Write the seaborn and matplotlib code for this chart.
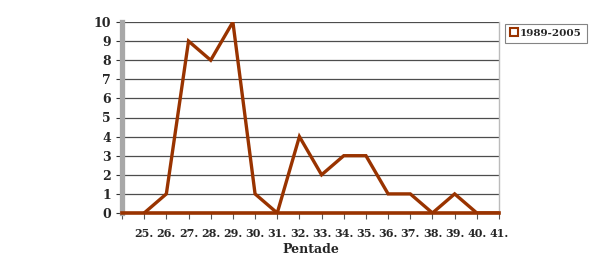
import matplotlib
matplotlib.use("Agg")
import matplotlib.pyplot as plt
import seaborn as sns
import pandas as pd
from matplotlib.lines import Line2D

pentade = [25, 26, 27, 28, 29, 30, 31, 32, 33, 34, 35, 36, 37, 38, 39, 40, 41]
counts = [0, 1, 9, 8, 10, 1, 0, 4, 2, 3, 3, 1, 1, 0, 1, 0, 0]
series_name = "1989-2005"
x_title = "Pentade"
y_ticks = list(range(0, 11))

df = pd.DataFrame({"Pentade": pentade, "Anzahl": counts})

sns.set_style("white")
plt.rcParams["font.family"] = ["DejaVu Serif"]
plt.rcParams["font.weight"] = "bold"

brown = "#993300"
fig = plt.figure(figsize=(6.06, 2.77), dpi=100)
ax = fig.add_axes([122 / 606, 1 - 213 / 277, (499 - 122) / 606, (213 - 22) / 277])

sns.lineplot(data=df, x="Pentade", y="Anzahl", ax=ax, color=brown, linewidth=2.4,
             solid_joinstyle="miter", zorder=5, label=series_name, legend=False)

ax.set_xlim(pentade[0] - 1, pentade[-1])
ax.set_ylim(0, 10)
ax.set_yticks(y_ticks)
ax.set_yticklabels([str(v) for v in y_ticks], fontsize=9, fontweight="bold")
ax.set_xticks([pentade[0] - 1] + pentade)
ax.set_xticklabels([""] + [f"{p}." for p in pentade], fontsize=8, fontweight="bold")
ax.tick_params(axis="x", length=4, width=0.8, color="#555555", pad=7, direction="out", bottom=True)
ax.tick_params(axis="y", length=4, width=0.8, color="#333333", pad=4, direction="out", left=True)

ax.grid(axis="y", color="#4d4d4d", linewidth=0.9)
ax.grid(axis="x", visible=False)
ax.set_axisbelow(True)

ax.spines["top"].set_visible(False)
ax.spines["right"].set_color("#bbbbbb")
ax.spines["right"].set_linewidth(1.0)
ax.spines["left"].set_color("#a8a8a8")
ax.spines["left"].set_linewidth(3.8)
ax.spines["bottom"].set_color(brown)
ax.spines["bottom"].set_linewidth(2.6)
ax.spines["bottom"].set_zorder(6)

ax.set_xlabel(x_title, fontsize=9, fontweight="bold", labelpad=3)
ax.set_ylabel("")

handle = Line2D([], [], linestyle="none", marker="s", markersize=6,
                markerfacecolor="white", markeredgecolor=brown, markeredgewidth=1.5)
leg = fig.legend([handle], [series_name], loc="upper left",
                 bbox_to_anchor=(505 / 606, 1 - 24 / 277), frameon=True, fancybox=False,
                 prop={"size": 7.5, "weight": "bold"}, handlelength=0.8, handletextpad=0.2,
                 borderpad=0.45, borderaxespad=0)
leg.get_frame().set_edgecolor("#666666")
leg.get_frame().set_linewidth(0.8)

fig.savefig("out.png", dpi=100)
